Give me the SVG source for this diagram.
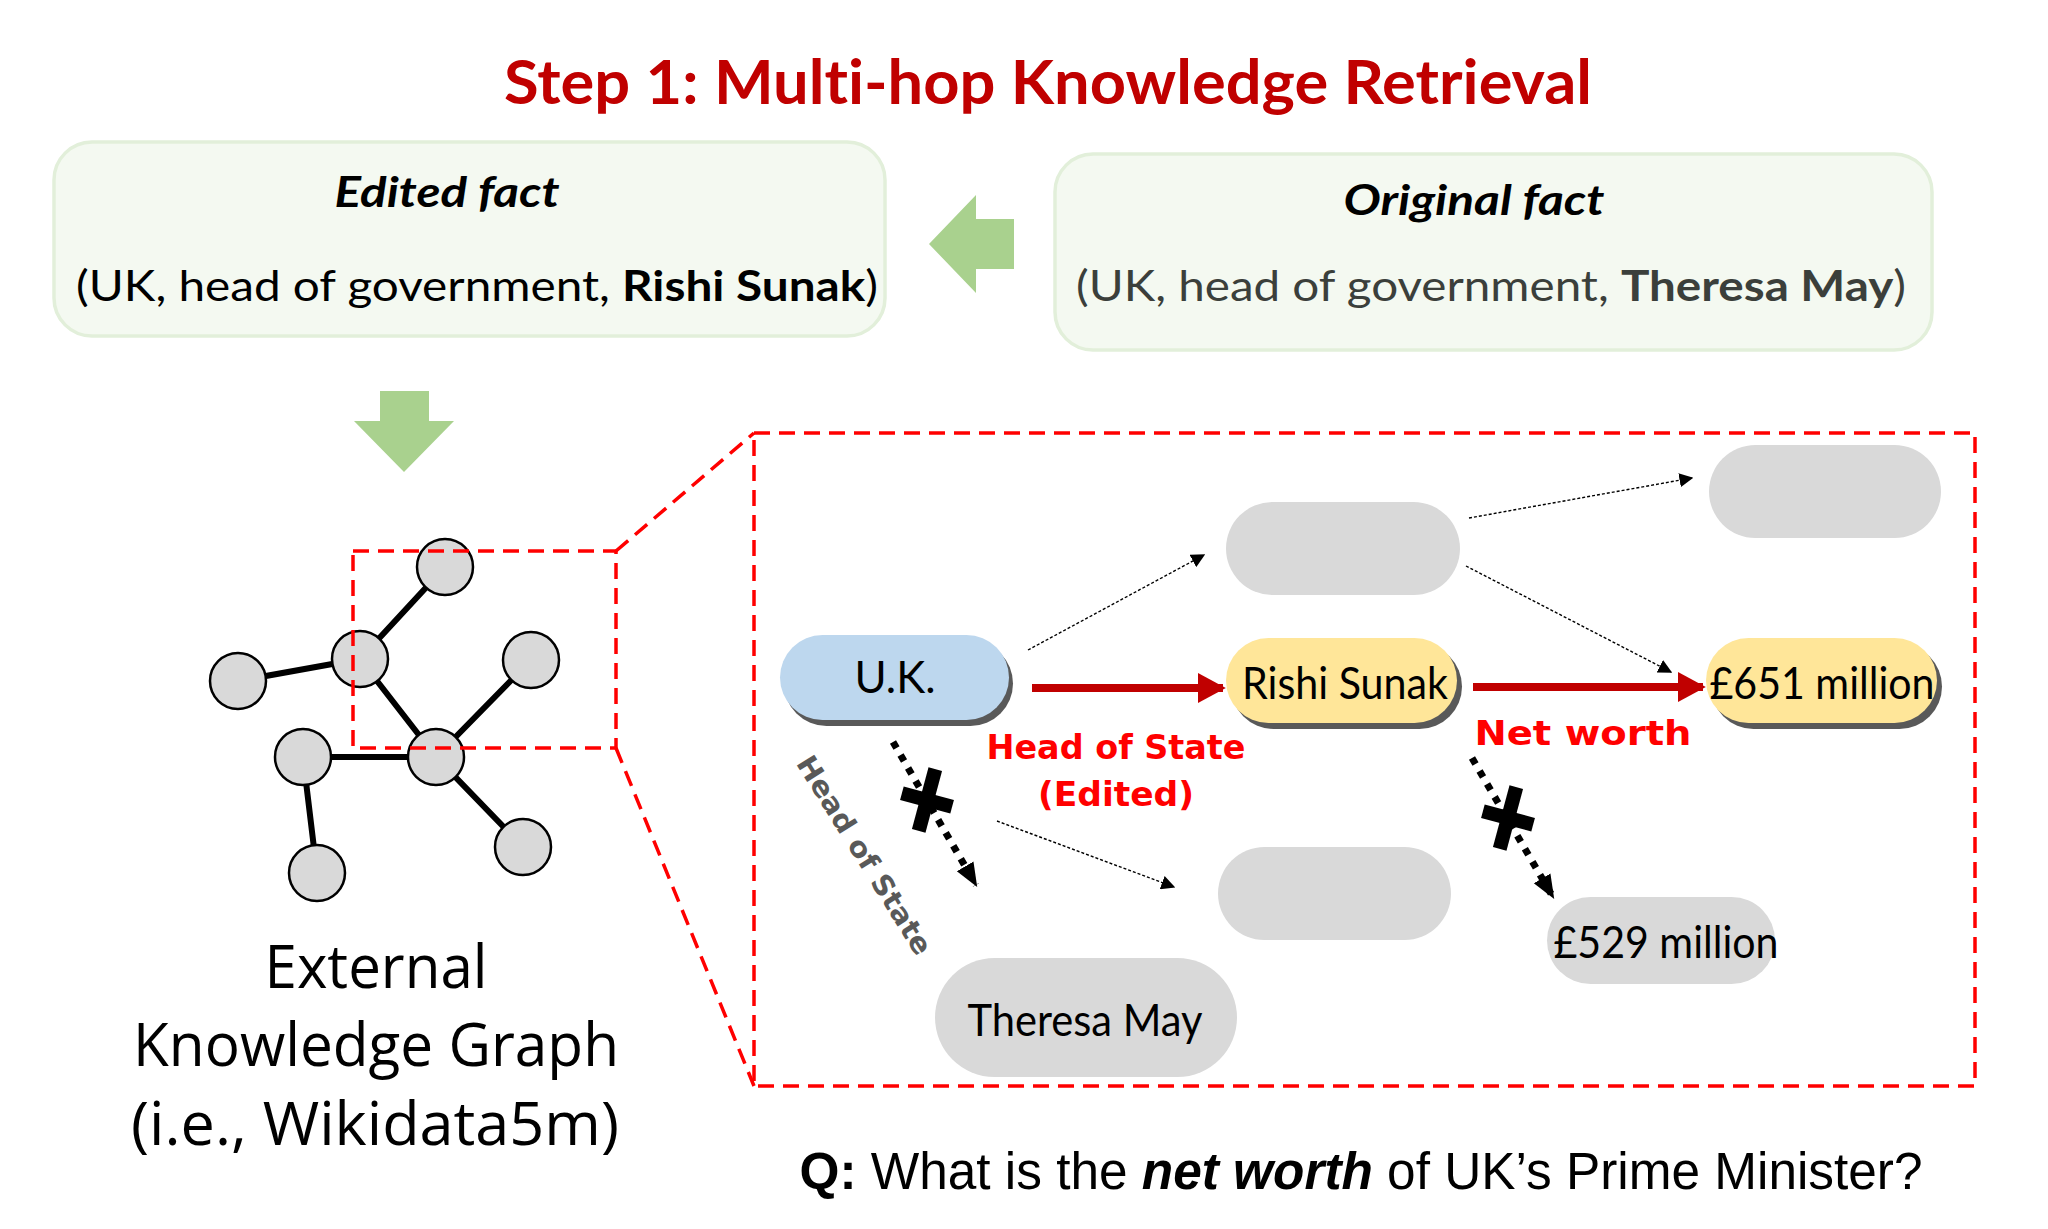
<svg xmlns="http://www.w3.org/2000/svg" width="2048" height="1229" viewBox="0 0 2048 1229">
<style>
text{font-variant-ligatures:none}
.cal{font-family:Lato,"Open Sans","Liberation Sans",sans-serif}
.fact{fill:#F4F9F1;stroke:#E2EFDA;stroke-width:3.5}
.green{fill:#A9D18E}
.kgn{fill:#D9D9D9;stroke:#000;stroke-width:2.5}
.kge{stroke:#000;stroke-width:6;stroke-linecap:round}
.dash{fill:none;stroke:#FF0000;stroke-width:3.5;stroke-dasharray:16 9}
.gray{fill:#D9D9D9}
.shadow{fill:#595959}
.ntxt{font-family:Lato,"Open Sans","Liberation Sans",sans-serif;font-size:44px;fill:#000;text-anchor:middle}
.thin{fill:none;stroke:#000;stroke-width:1.4;stroke-dasharray:3 2}
.thick{fill:none;stroke:#000;stroke-width:7;stroke-dasharray:7 8}
.red{fill:none;stroke:#C00000;stroke-width:8}
.rl{font-family:"DejaVu Sans",Verdana,sans-serif;font-weight:bold;font-size:34px;fill:#FF0000;text-anchor:middle}
</style>
<defs>
<marker id="ah" viewBox="0 0 10 10" refX="9" refY="5" markerWidth="14" markerHeight="14" markerUnits="userSpaceOnUse" orient="auto"><path d="M0,0 L10,5 L0,10 z" fill="#000"/></marker>
<marker id="ahb" viewBox="0 0 10 10" refX="9" refY="5" markerWidth="24" markerHeight="24" markerUnits="userSpaceOnUse" orient="auto"><path d="M0,1 L10,5 L0,9 z" fill="#000"/></marker>
<marker id="ahr" viewBox="0 0 10 10" refX="9" refY="5" markerWidth="28" markerHeight="30" markerUnits="userSpaceOnUse" orient="auto" preserveAspectRatio="none"><path d="M0,0 L10,5 L0,10 z" fill="#C00000"/></marker>
</defs>

<text id="title" x="1048" y="104" class="cal" font-size="61" font-weight="bold" fill="#C00000" text-anchor="middle" textLength="1088" lengthAdjust="spacingAndGlyphs">Step 1: Multi-hop Knowledge Retrieval</text>

<g id="edited-fact">
<rect x="54" y="142" width="831" height="194" rx="38" class="fact"/>
<text x="447" y="207" class="cal" font-size="42" font-weight="bold" font-style="italic" text-anchor="middle" textLength="225" lengthAdjust="spacingAndGlyphs">Edited fact</text>
<text x="477" y="301" class="cal" font-size="42" text-anchor="middle" textLength="802" lengthAdjust="spacingAndGlyphs">(UK, head of government, <tspan font-weight="bold">Rishi Sunak</tspan>)</text>
</g>

<g id="original-fact">
<rect x="1055" y="154" width="877" height="196" rx="38" class="fact"/>
<text x="1474" y="215" class="cal" font-size="42" font-weight="bold" font-style="italic" text-anchor="middle" textLength="261" lengthAdjust="spacingAndGlyphs">Original fact</text>
<text x="1491" y="301" class="cal" font-size="42" fill="#3B3F3B" text-anchor="middle" textLength="830" lengthAdjust="spacingAndGlyphs">(UK, head of government, <tspan font-weight="bold">Theresa May</tspan>)</text>
</g>

<g id="arrow-left"><path class="green" d="M929,244 L976,195 L976,219 L1014,219 L1014,269 L976,269 L976,293 z"/></g>
<g id="arrow-down"><path class="green" d="M380,391 L429,391 L429,421 L454,421 L404,472 L354,421 L380,421 z"/></g>

<g id="kg">
<line class="kge" x1="360" y1="659" x2="445" y2="567"/>
<line class="kge" x1="360" y1="659" x2="238" y2="681"/>
<line class="kge" x1="360" y1="659" x2="436" y2="757"/>
<line class="kge" x1="436" y1="757" x2="531" y2="660"/>
<line class="kge" x1="436" y1="757" x2="303" y2="757"/>
<line class="kge" x1="436" y1="757" x2="523" y2="847"/>
<line class="kge" x1="303" y1="757" x2="317" y2="873"/>
<circle class="kgn" cx="445" cy="567" r="28"/>
<circle class="kgn" cx="360" cy="659" r="28"/>
<circle class="kgn" cx="238" cy="681" r="28"/>
<circle class="kgn" cx="531" cy="660" r="28"/>
<circle class="kgn" cx="303" cy="757" r="28"/>
<circle class="kgn" cx="436" cy="757" r="28"/>
<circle class="kgn" cx="317" cy="873" r="28"/>
<circle class="kgn" cx="523" cy="847" r="28"/>
</g>

<g id="kg-label" font-family="'Open Sans','Noto Sans',sans-serif" font-size="60" text-anchor="middle" fill="#000">
<text x="376" y="988" textLength="223" lengthAdjust="spacingAndGlyphs">External</text>
<text x="376" y="1066" textLength="486" lengthAdjust="spacingAndGlyphs">Knowledge Graph</text>
<text x="375" y="1145" textLength="488" lengthAdjust="spacingAndGlyphs">(i.e., Wikidata5m)</text>
</g>

<g id="zoom-frame">
<rect class="dash" x="353" y="551" width="263" height="197"/>
<line class="dash" x1="616" y1="551" x2="754" y2="433"/>
<line class="dash" x1="616" y1="748" x2="754" y2="1086"/>
<rect class="dash" x="754" y="433" width="1221" height="653"/>
</g>

<g id="node-uk">
<rect class="shadow" x="784" y="641" width="229" height="85" rx="42.5"/>
<rect x="780" y="635" width="229" height="85" rx="42.5" fill="#BDD7EE"/>
<text class="ntxt" x="895" y="693" textLength="81" lengthAdjust="spacingAndGlyphs">U.K.</text>
</g>
<g id="node-rishi">
<rect class="shadow" x="1231" y="644" width="231" height="85" rx="42.5"/>
<rect x="1226" y="638" width="231" height="85" rx="42.5" fill="#FFE699"/>
<text class="ntxt" x="1345" y="699" textLength="206" lengthAdjust="spacingAndGlyphs">Rishi Sunak</text>
</g>
<g id="node-651">
<rect class="shadow" x="1711" y="644" width="231" height="85" rx="42.5"/>
<rect x="1706" y="638" width="231" height="85" rx="42.5" fill="#FFE699"/>
<text class="ntxt" x="1822" y="699" textLength="225" lengthAdjust="spacingAndGlyphs">£651 million</text>
</g>
<g id="node-gray-top"><rect class="gray" x="1226" y="502" width="234" height="93" rx="46.5"/></g>
<g id="node-gray-topright"><rect class="gray" x="1709" y="445" width="232" height="93" rx="46.5"/></g>
<g id="node-gray-mid"><rect class="gray" x="1218" y="847" width="233" height="93" rx="46.5"/></g>
<g id="node-529">
<rect class="gray" x="1547" y="897" width="228" height="87" rx="43.5"/>
<text class="ntxt" x="1666" y="958" textLength="225" lengthAdjust="spacingAndGlyphs">£529 million</text>
</g>
<g id="node-theresa">
<rect class="gray" x="935" y="958" width="302" height="119" rx="59.5"/>
<text class="ntxt" x="1085" y="1036" textLength="235" lengthAdjust="spacingAndGlyphs">Theresa May</text>
</g>

<g id="connectors">
<line class="red" x1="1032" y1="688" x2="1223" y2="688" marker-end="url(#ahr)"/>
<line class="red" x1="1473" y1="687" x2="1703" y2="687" marker-end="url(#ahr)"/>
<line class="thin" x1="1028" y1="650" x2="1204" y2="555" marker-end="url(#ah)"/>
<line class="thin" x1="1469" y1="518" x2="1692" y2="478" marker-end="url(#ah)"/>
<line class="thin" x1="1466" y1="566" x2="1671" y2="672" marker-end="url(#ah)"/>
<line class="thin" x1="997" y1="821" x2="1174" y2="887" marker-end="url(#ah)"/>
<line class="thick" x1="893" y1="742" x2="976" y2="885" marker-end="url(#ahb)"/>
<line class="thick" x1="1472" y1="758" x2="1553" y2="897" marker-end="url(#ahb)"/>
<g transform="translate(927,800) rotate(15)"><rect x="-7" y="-32" width="14" height="64"/><rect x="-26" y="-7" width="52" height="14"/></g>
<g transform="translate(1508,818) rotate(15)"><rect x="-7" y="-32" width="14" height="64"/><rect x="-26" y="-7" width="52" height="14"/></g>
<text class="rl" x="1116" y="759" textLength="259" lengthAdjust="spacingAndGlyphs">Head of State</text>
<text class="rl" x="1116" y="806" textLength="156" lengthAdjust="spacingAndGlyphs">(Edited)</text>
<text class="rl" x="1583" y="745" textLength="217" lengthAdjust="spacingAndGlyphs">Net worth</text>
<text transform="translate(863,856) rotate(58)" font-family="'DejaVu Sans',Verdana,sans-serif" font-weight="bold" font-size="28" fill="#595959" text-anchor="middle" dominant-baseline="middle" textLength="229" lengthAdjust="spacingAndGlyphs">Head of State</text>
</g>

<text id="question" x="1361" y="1189" font-family="'Liberation Sans',Arial,sans-serif" font-size="51" text-anchor="middle" fill="#000" textLength="1123" lengthAdjust="spacingAndGlyphs"><tspan font-weight="bold">Q:</tspan> What is the <tspan font-weight="bold" font-style="italic">net worth</tspan> of UK’s Prime Minister?</text>
</svg>
